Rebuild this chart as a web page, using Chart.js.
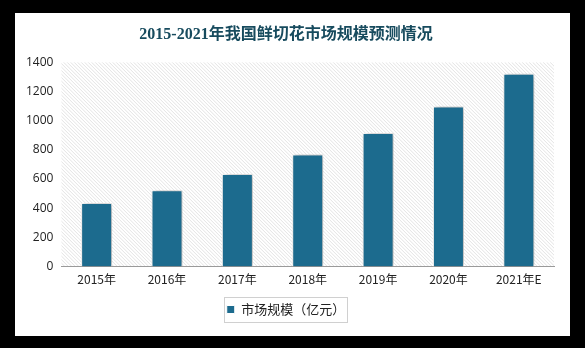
<!DOCTYPE html>
<html>
<head>
<meta charset="utf-8">
<script src="https://cdn.jsdelivr.net/npm/chart.js@4"></script>
<style>
  html, body { margin: 0; padding: 0; background: #000; }
  #panel { position: absolute; left: 15px; top: 13px; width: 555px; height: 323px; background: #fff; }
</style>
</head>
<body>
<div id="panel"><canvas id="chartMarket" width="555" height="323"></canvas></div>
<script>
const years = ['2015年', '2016年', '2017年', '2018年', '2019年', '2020年', '2021年E']
const marketSize = [435, 523, 635, 768, 915, 1097, 1321]
const yTicks = [0, 200, 400, 600, 800, 1000, 1200, 1400]

const barColor = '#1c6b8e'

// diagonal hatch behind the plot
const hatchBg = {
    id: 'hatchBg',
    beforeDraw(chart) {
        const {ctx, chartArea: a} = chart
        ctx.save()
        ctx.beginPath()
        ctx.rect(a.left, a.top, a.right - a.left, a.bottom - a.top)
        ctx.clip()
        ctx.strokeStyle = '#dcdcdc'
        ctx.lineWidth = 0.8
        const h = a.bottom - a.top
        for (let x = a.left - h; x < a.right + 4; x += 3.5) {
            ctx.beginPath()
            ctx.moveTo(x, a.top)
            ctx.lineTo(x + h, a.bottom)
            ctx.stroke()
        }
        ctx.restore()
    }
}

const barShadow = {
    id: 'barShadow',
    beforeDatasetsDraw(chart) {
        const ctx = chart.ctx
        ctx.save()
        ctx.shadowColor = 'rgba(0,0,0,0.35)'
        ctx.shadowBlur = 6
        ctx.shadowOffsetX = 2
        ctx.shadowOffsetY = 0
    },
    afterDatasetsDraw(chart) {
        chart.ctx.restore()
    }
}

// frame round the legend item
const legendFrame = {
    id: 'legendFrame',
    afterDraw(chart) {
        const box = chart.legend.legendHitBoxes[0]
        if (!box) return
        const ctx = chart.ctx
        ctx.save()
        ctx.strokeStyle = '#d0d0d0'
        ctx.lineWidth = 1
        ctx.strokeRect(Math.round(box.left - 3) + 0.5, Math.round(box.top - 6) + 0.5, Math.round(box.width + 4), 25)
        ctx.restore()
    }
}

let myChart = new Chart(document.getElementById('chartMarket'), {
    type: 'bar',
    data: {
        labels: years,
        datasets: [{
            label: '市场规模（亿元）',
            data: marketSize,
            backgroundColor: barColor,
            borderColor: '#ffffff',
            borderWidth: 1,
            categoryPercentage: 1,
            barPercentage: 0.44
        }]
    },
    options: {
        responsive: false,
        animation: false,
        layout: { padding: { left: 3, right: 16, top: 0, bottom: 10 } },
        scales: {
            x: {
                grid: { display: false, drawTicks: false },
                border: { display: true, color: '#9a9a9a', width: 1 },
                ticks: { color: '#222', font: { family: 'Noto Sans CJK SC', size: 12 }, padding: 6 }
            },
            y: {
                min: 0,
                max: 1400,
                afterBuildTicks(axis) { axis.ticks = yTicks.map(v => ({value: v})) },
                grid: { display: false, drawTicks: false },
                border: { display: false },
                ticks: {
                    color: '#222',
                    font: { family: 'Open Sans', size: 12 },
                    padding: 8,
                    callback: v => String(v)
                }
            }
        },
        plugins: {
            title: {
                display: true,
                text: '2015-2021年我国鲜切花市场规模预测情况',
                color: '#174b5e',
                font: { family: '"Liberation Serif", "Noto Sans CJK SC"', size: 16, weight: 'bold' },
                padding: { top: 12, bottom: 18 }
            },
            legend: {
                position: 'bottom',
                labels: {
                    color: '#222',
                    font: { family: 'Noto Sans CJK SC', size: 13 },
                    boxWidth: 8,
                    boxHeight: 8,
                    padding: 10
                }
            },
            tooltip: { enabled: false }
        }
    },
    plugins: [hatchBg, barShadow, legendFrame]
});
</script>
</body>
</html>
